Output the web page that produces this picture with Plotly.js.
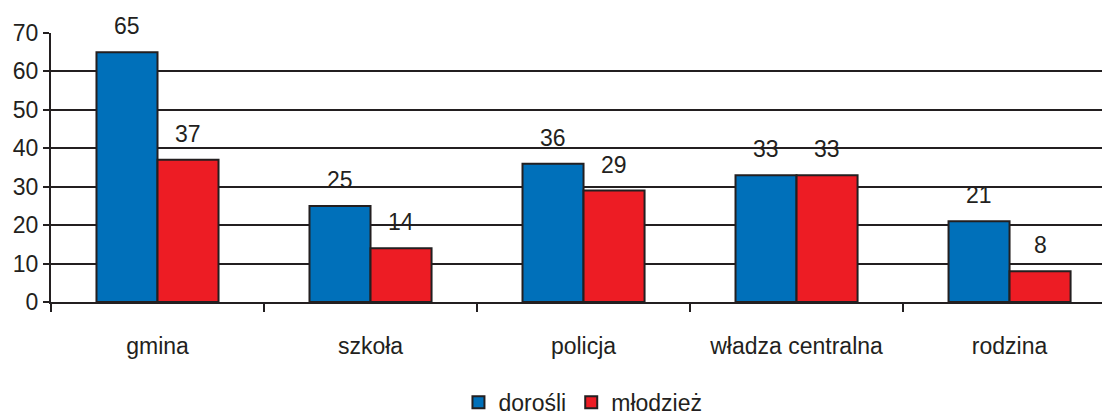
<!DOCTYPE html>
<html><head><meta charset="utf-8">
<script src="https://cdn.plot.ly/plotly-3.0.1.min.js"></script>
<style>body{margin:0;padding:0;background:#fff}#chart{width:1102px;height:419px}</style>
</head><body><div id="chart"></div>
<script>
const categories = ["gmina", "szkoła", "policja", "władza centralna", "rodzina"];
const dorosli = [65, 25, 36, 33, 21];
const mlodziez = [37, 14, 29, 33, 8];
const seriesNames = ["dorośli", "młodzież"];
const yTicks = [0, 10, 20, 30, 40, 50, 60, 70];

const dark = "#231F20";
const FONT = "Liberation Sans, Arial, sans-serif";
const mk = (y, name, color) => ({
  type: "bar", x: categories, y: y, name: name,
  marker: {color: color, line: {color: dark, width: 2}}
});
const data = [mk(dorosli, seriesNames[0], "#0070BA"), mk(mlodziez, seriesNames[1], "#ED1C24")];

const annotations = [];
[[dorosli, -30.5], [mlodziez, 30.5]].forEach(([vals, dx]) => {
  vals.forEach((v, i) => annotations.push({
    x: categories[i], y: v, xref: "x", yref: "y", text: String(v), showarrow: false,
    xshift: dx, yshift: 11, yanchor: "bottom", xanchor: "center",
    font: {family: FONT, size: 23, color: dark}
  }));
});

const layout = {
  width: 1102, height: 419,
  margin: {l: 51, r: 0, t: 33, b: 117},
  paper_bgcolor: "#fff", plot_bgcolor: "#fff",
  font: {family: FONT, size: 23, color: dark},
  barmode: "group", bargap: 0.427, bargroupgap: 0,
  showlegend: true,
  legend: {orientation: "h", xref: "container", yref: "container", x: 0.529, xanchor: "center", y: 0.04, yanchor: "middle",
    font: {size: 23}, itemwidth: 30, tracegroupgap: 0, borderwidth: 0},
  annotations: annotations,
  xaxis: {type: "category", range: [-0.5, 4.434], tickson: "boundaries", ticks: "outside", ticklen: 8, tickwidth: 2,
    tickcolor: dark, showline: true, linecolor: dark, linewidth: 2, showgrid: false, ticklabelstandoff: 22, zeroline: false},
  yaxis: {range: [0, 70], tickvals: yTicks, ticks: "outside", ticklen: 6, tickwidth: 2, tickcolor: dark,
    showline: true, linecolor: dark, linewidth: 2, showgrid: true, gridcolor: dark, gridwidth: 2, zeroline: false, fixedrange: true}
};
Plotly.newPlot("chart", data, layout, {displayModeBar: false, staticPlot: true});
</script></body></html>
